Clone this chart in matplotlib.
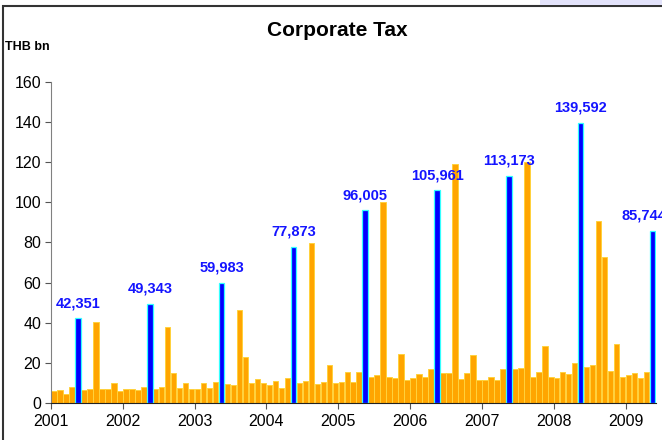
import numpy as np
import matplotlib
matplotlib.use("Agg")
import matplotlib.pyplot as plt
from matplotlib.patches import Rectangle

plt.rcParams['font.family'] = ['Liberation Sans', 'DejaVu Sans']

# monthly corporate tax, THB bn, Jan 2001 - May 2009
tax_2001 = [5.8, 6.5, 4.7, 8.1, 42.351, 6.5, 7.1, 40.4, 7.0, 7.0, 10.0, 5.8]
tax_2002 = [7.0, 7.0, 6.3, 8.1, 49.343, 7.0, 8.1, 37.8, 14.8, 7.6, 10.0, 7.0]
tax_2003 = [7.0, 10.0, 7.6, 10.6, 59.983, 9.5, 8.8, 46.4, 22.7, 10.0, 11.8, 10.0]
tax_2004 = [8.8, 11.1, 7.6, 12.5, 77.873, 10.0, 11.1, 79.6, 9.3, 10.6, 19.1, 10.0]
tax_2005 = [10.6, 15.3, 10.6, 15.3, 96.005, 13.0, 14.1, 100.2, 13.0, 12.6, 24.5, 11.3]
tax_2006 = [12.3, 14.7, 13.0, 16.8, 105.961, 14.8, 14.8, 119.1, 12.0, 14.8, 23.9, 11.5]
tax_2007 = [11.5, 13.1, 11.5, 16.9, 113.173, 16.9, 17.2, 120.1, 13.1, 15.5, 28.2, 13.1]
tax_2008 = [12.5, 15.5, 14.3, 19.7, 139.592, 17.8, 18.9, 90.7, 72.6, 16.1, 29.3, 13.1]
tax_2009 = [14.1, 14.8, 12.3, 15.3, 85.744]

years = [2001, 2002, 2003, 2004, 2005, 2006, 2007, 2008, 2009]
may_labels = ["42,351", "49,343", "59,983", "77,873", "96,005",
              "105,961", "113,173", "139,592", "85,744"]

values = np.array(tax_2001 + tax_2002 + tax_2003 + tax_2004 + tax_2005
                  + tax_2006 + tax_2007 + tax_2008 + tax_2009)
months = np.arange(len(values))
is_may = (months % 12) == 4

fig = plt.figure(figsize=(6.62, 4.40), dpi=100)
ax = fig.add_axes([51 / 662, 1 - 403 / 440, 604.5 / 662, 321 / 440])

ax.bar(months[~is_may] + 0.5, values[~is_may], width=0.92,
       color="#FFA500", edgecolor="#FFD23C", linewidth=0.7)
ax.bar(months[is_may] + 0.5, values[is_may], width=0.92,
       color="#0000FF", edgecolor="#33FFFF", linewidth=0.9)

# labels over the May bars, the last one pulled in from the edge
for i, (x, v, lab) in enumerate(zip(months[is_may] + 0.5, values[is_may], may_labels)):
    if i == len(may_labels) - 1:
        x = x - 1.4
    ax.text(x, v + 4, lab, ha="center", va="bottom", color="#1414FF",
            fontsize=10.5, fontweight="bold", clip_on=False)

ax.set_xlim(0, len(values))
ax.set_ylim(0, 160)
ax.set_yticks(np.arange(0, 161, 20))
ax.set_xticks([12 * k for k in range(len(years))])
ax.set_xticklabels([str(y) for y in years])
ax.tick_params(axis="both", labelsize=11.5, direction="out", length=4,
               color="#555555", pad=3)
ax.tick_params(axis="x", pad=4)

for s in ["top", "right"]:
    ax.spines[s].set_visible(False)
ax.spines["left"].set_color("#808080")
ax.spines["bottom"].set_color("#222222")

fig.text(337 / 662, 1 - 31 / 440, "Corporate Tax", ha="center", va="center",
         fontsize=15, fontweight="bold")
fig.text(5 / 662, 1 - 47 / 440, "THB bn", ha="left", va="center",
         fontsize=9, fontweight="bold")

# outer frame and the lavender strip in the corner
fig.patches.append(Rectangle((3 / 662, -0.1), 1.1, 1 - 6 / 440 + 0.1,
                             transform=fig.transFigure, fill=False,
                             edgecolor="#333333", linewidth=1.5))
fig.patches.append(Rectangle((540 / 662, 1 - 5 / 440), 122 / 662, 5 / 440,
                             transform=fig.transFigure, facecolor="#E2E2FA",
                             edgecolor="none"))

fig.savefig("out.png", dpi=100)
